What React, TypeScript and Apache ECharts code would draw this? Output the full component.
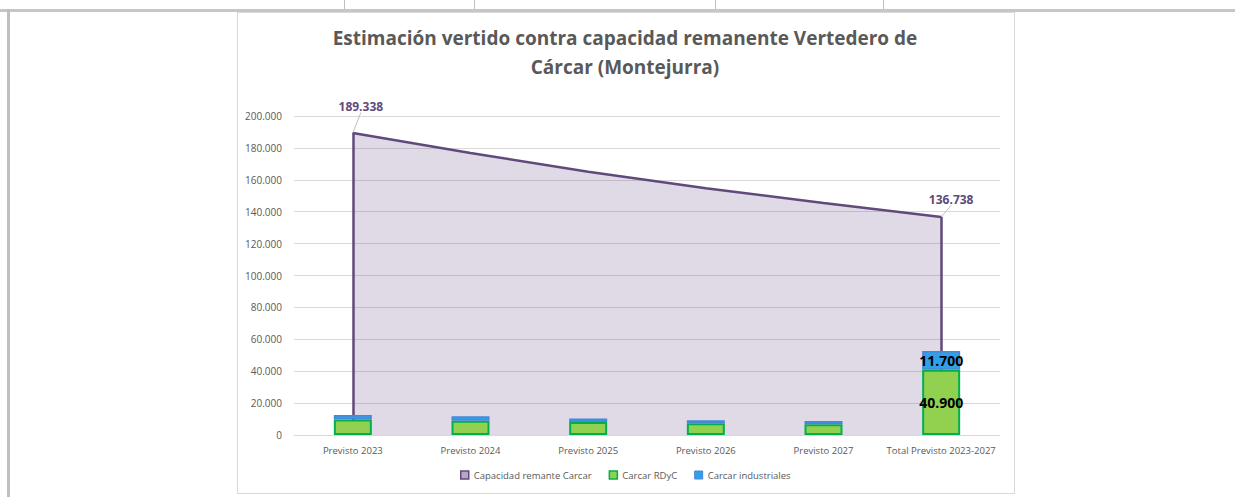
import React, { useEffect, useRef } from "react";
import * as echarts from "echarts";

const categories = [
  "Previsto 2023",
  "Previsto 2024",
  "Previsto 2025",
  "Previsto 2026",
  "Previsto 2027",
  "Total Previsto 2023-2027",
];
const capacidad = [189338, 176838, 165038, 154638, 145438, 136738];
const rdyc = [9700, 9000, 8100, 7400, 6700, 40900];
const industriales = [2800, 2800, 2300, 1800, 2000, 11700];
const yMin = 0;
const yMax = 200000;
const yInterval = 20000;

const titleText = "Estimación vertido contra capacidad remanente Vertedero de\nCárcar (Montejurra)";
const seriesNames = ["Capacidad remante Carcar", "Carcar RDyC", "Carcar industriales"];

const fmt = (v: number) => String(Math.round(v)).replace(/\B(?=(\d{3})+(?!\d))/g, ".");

const FONT = "'Open Sans', 'Noto Sans', sans-serif";

export default function App() {
  const ref = useRef<HTMLDivElement>(null);

  useEffect(() => {
    if (!ref.current) return;
    const chart = echarts.init(ref.current, null, { renderer: "svg" });
    const last = categories.length - 1;
    chart.setOption({
      animation: false,
      textStyle: { fontFamily: FONT },
      title: {
        text: titleText,
        left: 620,
        textAlign: "center",
        top: 18,
        textStyle: {
          fontFamily: FONT,
          fontSize: 19,
          fontWeight: "bold",
          color: "#595959",
          lineHeight: 29,
        },
      },
      legend: {
        left: 460,
        top: 470,
        padding: 0,
        itemWidth: 8,
        itemHeight: 8,
        itemGap: 17,
        icon: "rect",
        textStyle: { fontFamily: FONT, fontSize: 9.5, color: "#595959" },
        data: [
          {
            name: seriesNames[0],
            itemStyle: { color: "#B4A7C8", borderColor: "#604A7B", borderWidth: 1.5 },
          },
          {
            name: seriesNames[1],
            itemStyle: { color: "#92D050", borderColor: "#00B050", borderWidth: 1.5 },
          },
          {
            name: seriesNames[2],
            itemStyle: { color: "#30A0E8", borderColor: "#4A86D8", borderWidth: 1 },
          },
        ],
      },
      grid: { left: 294, right: 235, top: 116, bottom: 62, containLabel: false },
      xAxis: {
        type: "category",
        data: categories,
        boundaryGap: true,
        axisTick: { show: false },
        axisLine: { lineStyle: { color: "#D9D9D9", width: 1 } },
        axisLabel: {
          interval: 0,
          hideOverlap: false,
          fontFamily: FONT,
          fontSize: 9.5,
          color: "#595959",
          margin: 10,
        },
      },
      yAxis: {
        type: "value",
        min: yMin,
        max: yMax,
        interval: yInterval,
        axisLine: { show: false },
        axisTick: { show: false },
        splitLine: { lineStyle: { color: "#D9D9D9", width: 1 } },
        axisLabel: {
          fontFamily: FONT,
          fontSize: 10,
          color: "#595959",
          margin: 12,
          formatter: (v: number) => fmt(v),
        },
      },
      series: [
        {
          name: seriesNames[0],
          type: "line",
          z: 2,
          symbol: "circle",
          symbolSize: 1,
          showSymbol: true,
          itemStyle: { color: "#604A7B" },
          lineStyle: { color: "#604A7B", width: 2.5 },
          areaStyle: { color: "rgba(100,70,130,0.2)", opacity: 1 },
          data: capacidad.map((v, i) => ({
            value: v,
            label: { show: i === 0 || i === last },
          })),
          label: {
            show: false,
            position: "top",
            distance: 5,
            color: "#604A7B",
            fontFamily: FONT,
            fontSize: 12,
            fontWeight: "bold",
            formatter: (p: any) => fmt(p.value),
          },
          labelLayout: (p: any) =>
            p.dataIndex === 0 ? { dx: 8, dy: -15 } : { dx: 10, dy: -6 },
          labelLine: { show: true, lineStyle: { color: "#BFBFBF", width: 1 } },
          markLine: {
            silent: true,
            symbol: ["none", "none"],
            label: { show: false },
            lineStyle: { color: "#604A7B", width: 2.5, type: "solid" },
            data: [
              [{ coord: [0, 0] }, { coord: [0, capacidad[0]] }],
              [{ coord: [last, 0] }, { coord: [last, capacidad[last]] }],
            ],
          },
        },
        {
          name: seriesNames[1],
          type: "bar",
          stack: "total",
          z: 8,
          barWidth: 38,
          itemStyle: { color: "#92D050", borderColor: "#00B050", borderWidth: 2 },
          data: rdyc.map((v, i) => ({ value: v, label: { show: i === last } })),
          label: {
            show: false,
            position: "inside",
            color: "#000000",
            fontFamily: FONT,
            fontSize: 14,
            fontWeight: "bold",
            formatter: (p: any) => fmt(p.value),
          },
        },
        {
          name: seriesNames[2],
          type: "bar",
          stack: "total",
          z: 8,
          barWidth: 38,
          itemStyle: { color: "#30A0E8", borderColor: "#4A86D8", borderWidth: 1.5 },
          data: industriales.map((v, i) => ({ value: v, label: { show: i === last } })),
          label: {
            show: false,
            position: "inside",
            color: "#000000",
            fontFamily: FONT,
            fontSize: 14,
            fontWeight: "bold",
            formatter: (p: any) => fmt(p.value),
          },
        },
      ],
    });
    return () => chart.dispose();
  }, []);

  const vline = (x: number, top: number, h: number, w = 1, c = "#BFBFBF") => (
    <div
      style={{ position: "absolute", left: x, top, width: w, height: h, background: c }}
    />
  );

  return (
    <div style={{ position: "absolute", left: 0, top: 0, width: 1235, height: 497, background: "#FFFFFF", overflow: "hidden" }}>
      {vline(344, 0, 11)}
      {vline(474, 0, 11)}
      {vline(715, 0, 11)}
      {vline(883, 0, 11)}
      <div style={{ position: "absolute", left: 0, top: 9, width: 1235, height: 3, background: "#C6C6C6" }} />
      {vline(7, 9, 488, 3, "#BFBFBF")}
      <div
        style={{
          position: "absolute",
          left: 237,
          top: 12,
          width: 776,
          height: 480,
          border: "1px solid #D9D9D9",
          background: "#FFFFFF",
        }}
      />
      <div ref={ref} style={{ position: "absolute", left: 0, top: 0, width: 1235, height: 497 }} />
    </div>
  );
}
